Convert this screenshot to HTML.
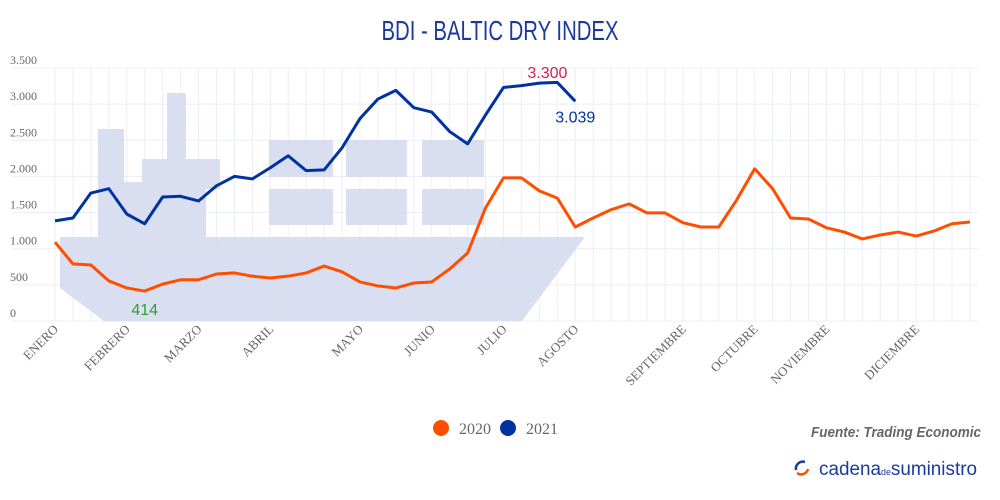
<!DOCTYPE html>
<html><head><meta charset="utf-8"><style>
body{margin:0;background:#fff;width:1000px;height:500px;overflow:hidden}
svg{display:block}
</style></head><body>
<svg id="chart" width="1000" height="500" viewBox="0 0 1000 500" xmlns="http://www.w3.org/2000/svg">
<text x="500" y="40" text-anchor="middle" font-family="Liberation Sans, sans-serif" font-size="28" fill="#1a3aa0" textLength="237" lengthAdjust="spacingAndGlyphs">BDI - BALTIC DRY INDEX</text>
<g id="grid"></g>
<g fill="#d5dcef" opacity="0.9">
<polygon points="60,237 585,237 522,321 104,321 60,288"/>
<polygon points="98,237 98,129 124,129 124,182 142,182 142,159 167,159 167,93 186,93 186,159 220,159 220,189 206,189 206,237"/>
<rect x="269" y="140" width="64" height="37"/><rect x="269" y="189" width="64" height="36"/>
<rect x="346" y="140" width="61" height="37"/><rect x="346" y="189" width="61" height="36"/>
<rect x="422" y="140" width="62" height="37"/><rect x="422" y="189" width="62" height="36"/>
</g>
<g id="yaxis"></g>
<g id="xaxis"></g>
<g id="series"></g>
<g font-family="Liberation Serif, serif" font-size="16" fill="#666">
<circle cx="441" cy="428" r="8" fill="#ff4e00"/>
<text x="459" y="434">2020</text>
<circle cx="508" cy="428" r="8" fill="#0033a0"/>
<text x="526" y="434">2021</text>
</g>
<text x="981" y="437" text-anchor="end" font-family="Liberation Sans, sans-serif" font-size="15" font-style="italic" font-weight="bold" fill="#666" textLength="170" lengthAdjust="spacingAndGlyphs">Fuente: Trading Economic</text>
<g>
<path d="M805,462 a7,7 0 0 0 -9,8" stroke="#1a3aa0" stroke-width="2.5" fill="none"/>
<path d="M797,473 a7,7 0 0 0 11,-4" stroke="#ff4e00" stroke-width="2.5" fill="none"/>
<text x="819" y="475" font-family="Liberation Sans, sans-serif" font-size="19" fill="#1a3aa0" textLength="158" lengthAdjust="spacingAndGlyphs">cadena<tspan font-size="9">de</tspan>suministro</text>
</g>
</svg>
<script>
const categoriesWeeks = 52;
const monthLabels = ["ENERO","FEBRERO","MARZO","ABRIL","MAYO","JUNIO","JULIO","AGOSTO","SEPTIEMBRE","OCTUBRE","NOVIEMBRE","DICIEMBRE"];
const monthIndex = [0,4,8,12,17,21,25,29,35,39,43,48];
const yTicks = [0,500,1000,1500,2000,2500,3000,3500];
const yTickLabels = ["0","500","1.000","1.500","2.000","2.500","3.000","3.500"];
const series2020 = [1090,790,775,555,457,414,510,570,570,650,665,620,595,620,665,760,680,540,485,457,525,540,720,940,1565,1980,1980,1800,1700,1300,1425,1540,1620,1495,1495,1360,1300,1300,1675,2105,1830,1425,1410,1290,1230,1135,1190,1230,1175,1245,1345,1370];
const series2021 = [1385,1425,1770,1830,1480,1345,1715,1725,1660,1870,2000,1965,2120,2285,2080,2090,2395,2800,3070,3190,2950,2890,2620,2450,2850,3230,3255,3290,3300,3039];

const NS="http://www.w3.org/2000/svg";
const x = i => 55 + i*17.94;
const y = v => 321 - v*0.0723;
function mk(tag, attrs, parent){const e=document.createElementNS(NS,tag);for(const k in attrs)e.setAttribute(k,attrs[k]);parent.appendChild(e);return e;}
const grid=document.getElementById('grid'), ya=document.getElementById('yaxis'), xa=document.getElementById('xaxis'), se=document.getElementById('series');
yTicks.forEach((t,k)=>{
  const l=mk('line',{x1:12,x2:978,y1:y(t),y2:y(t),stroke:'#eceef7','stroke-width':1},grid);
  
  
  const tx=mk('text',{x:10,y:y(t)-4,'font-family':'Liberation Serif, serif','font-size':12,fill:'#666'},ya);
  
  
  tx.textContent=yTickLabels[k];
});
for(let i=0;i<categoriesWeeks;i++){
  const l=mk('line',{x1:x(i),x2:x(i),y1:y(3500),y2:y(0),stroke:'#eceef7','stroke-width':1},grid);
  
  
}
monthLabels.forEach((m,k)=>{
  const px=x(monthIndex[k])+4, py=330;
  const tx=mk('text',{x:px,y:py,'text-anchor':'end','font-family':'Liberation Serif, serif','font-size':13,fill:'#666',transform:`rotate(-45 ${px} ${py})`},xa);
  
  
  tx.textContent=m;
});
function line(data,color,name){
  const p=mk('polyline',{points:data.map((v,i)=>x(i)+','+y(v)).join(' '),fill:'none',stroke:color,'stroke-width':3,'stroke-linejoin':'round'},se);
  
  
}
line(series2020,'#ff4e00','line-2020');
line(series2021,'#0033a0','line-2021');
function ann(text,i,v,dx,dy,color,name){
  const t=mk('text',{x:x(i)+dx,y:y(v)+dy,'text-anchor':'middle','font-family':'Liberation Sans, sans-serif','font-size':16,fill:color},se);
  
  
  t.textContent=text;
}
let minI=5;
ann('414',minI,series2020[minI],0,24,'#2ca02c','min-2020-label');
ann('3.300',27,series2021[27],8,-5,'#d6204e','max-2021-label');
ann('3.039',29,series2021[29],0,21,'#0033a0','last-2021-label');
</script>
</body></html>
